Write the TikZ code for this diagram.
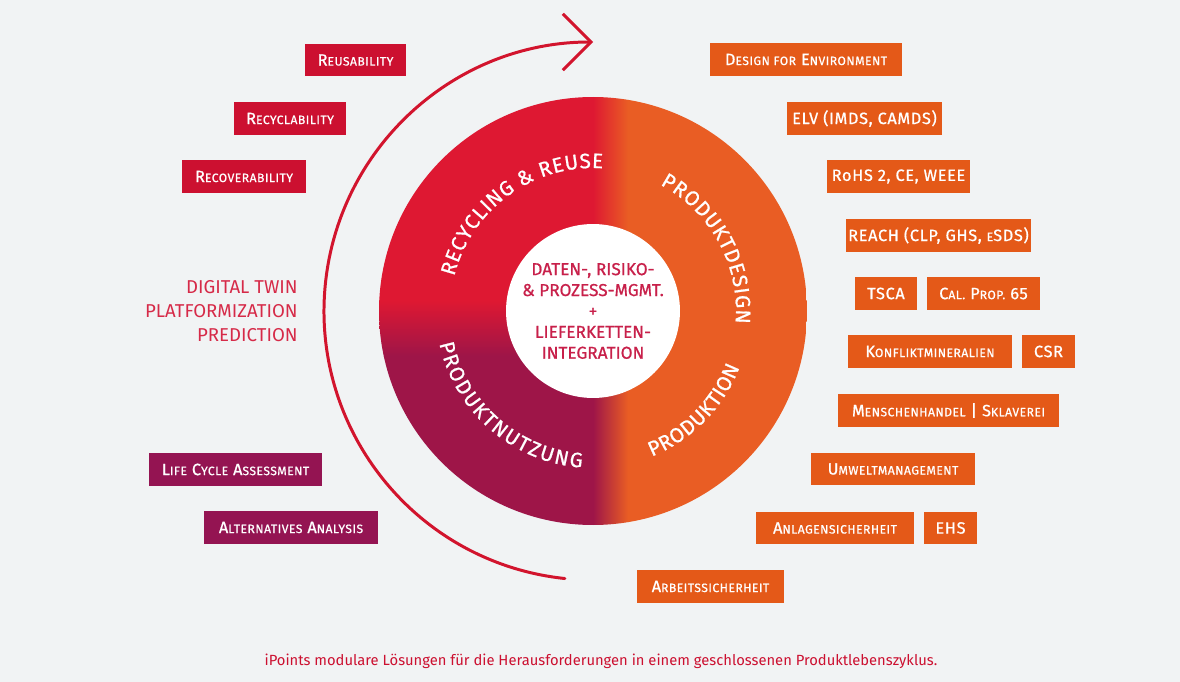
\documentclass[tikz,border=0pt]{standalone}
\usepackage{fontspec}
\setmainfont{Fira Sans}
\newfontfamily\tagfont[LetterSpace=4,FakeBold=0.8]{Fira Sans}
\newfontfamily\ringface[FakeBold=0.8]{Fira Sans}
\usetikzlibrary{arrows.meta,decorations.text}

\definecolor{bggray}{RGB}{241,243,244}
\definecolor{ringred}{RGB}{222,24,50}
\definecolor{ringorange}{RGB}{233,93,36}
\definecolor{ringpurple}{RGB}{158,21,72}
\definecolor{boxred}{RGB}{204,16,48}
\definecolor{boxpurple}{RGB}{148,20,82}
\definecolor{boxorange}{RGB}{228,89,24}
\definecolor{twinred}{RGB}{214,42,72}
\definecolor{hubred}{RGB}{200,32,74}
\definecolor{arrowred}{RGB}{210,20,45}

% small caps by hand
\newcommand\sml[1]{{\fontsize{6.9}{8}\selectfont\MakeUppercase{#1}}}
\newcommand\ringfont{\ringface\fontsize{11.8}{13}\selectfont}

\begin{document}
\begin{tikzpicture}[x=0.02cm,y=0.02cm,
    tag/.style={text=white, minimum height=0.66cm, inner xsep=1pt, inner ysep=0pt,
                font=\tagfont\fontsize{9.3}{11}\selectfont},
    redtag/.style={tag, fill=boxred},
    purpletag/.style={tag, fill=boxpurple},
    orangetag/.style={tag, fill=boxorange},
    boxw/.style={minimum width=#1*0.02cm},
    ringlabel/.style={decorate, decoration={text along path, text align={fit to path},
                text color=white, text={|\ringfont|#1}}},
    cyclearrow/.style={draw=arrowred, line width=1.7pt, line cap=round,
                -{Straight Barb[length=16pt,width=32pt,line width=1.7pt]}}]

    \fill[bggray] (0,0) rectangle (1180,-682);
    \coordinate (ringc) at (593,-311);

    % ring
    \begin{scope}[shift={(ringc)}]
        \clip (0,0) circle (214);
        \fill[ringred] (-214,10) rectangle (0,214);
        \fill[ringpurple] (-214,-214) rectangle (0,-45);
        \shade[top color=ringred, bottom color=ringpurple] (-214,-45) rectangle (0,10);
        \fill[ringorange] (35,-214) rectangle (214,214);
        \shade[left color=ringred, right color=ringorange] (0,10) rectangle (35,214);
        \shade[left color=ringred!50!ringpurple, right color=ringorange] (0,-45) rectangle (35,10);
        \shade[left color=ringpurple, right color=ringorange] (0,-214) rectangle (35,-45);
    \end{scope}
    \begin{scope}[shift={(ringc)}]
        \path[ringlabel={RECYCLING {\&} REUSE}] (166:143) arc (166:86:143);
        \path[ringlabel={PRODUKTDESIGN}] (62:143) arc (62:-5:143);
        \path[ringlabel={PRODUKTION}] (-68:157) arc (-68:-21:157);
        \path[ringlabel={PRODUKTNUTZUNG}] (192:157) arc (192:266:157);
    \end{scope}

    \node[circle, fill=white, minimum size=3.48cm, inner sep=0pt, align=center, text=hubred,
          font=\ringface\fontsize{9.8}{11.9}\selectfont] at (ringc) (hub)
          {DATEN-, RISIKO-\\\& PROZESS-MGMT.\\+\\LIEFERKETTEN-\\INTEGRATION};

    % cycle arrow
    \draw[cyclearrow] ([shift={(264:269)}]ringc) arc (264:90:269);

    % left side
    \node[redtag, boxw=101] at (355.5,-60) (reuse) {R\sml{eusability}};
    \node[redtag, boxw=112] at (290,-118.5) (recycle) {R\sml{ecyclability}};
    \node[redtag, boxw=124] at (244,-176.5) (recover) {R\sml{ecoverability}};
    \node[align=right, anchor=east, inner sep=0pt, text=twinred, font=\fontsize{10.6}{13.6}\selectfont]
          at (298,-311) (twin) {DIGITAL TWIN\\PLATFORMIZATION\\PREDICTION};
    \node[purpletag, boxw=173] at (235.5,-469.5) (lca) {L\sml{ife} C\sml{ycle} A\sml{ssessment}};
    \node[purpletag, boxw=174] at (291,-527.5) (alt) {A\sml{lternatives} A\sml{nalysis}};

    % right side
    \node[orangetag, boxw=192] at (806,-59.5) (dfe) {D\sml{esign for} E\sml{nvironment}};
    \node[orangetag, boxw=155] at (864.5,-118.5) (elv) {ELV (IMDS, CAMDS)};
    \node[orangetag, boxw=143] at (898.5,-176.5) (rohs) {RoHS 2, CE, WEEE};
    \node[orangetag, boxw=181] at (938.5,-235.5) (reach) {REACH (CLP, GHS, \sml{e}SDS)};
    \node[orangetag, boxw=62] at (886,-293.5) (tsca) {TSCA};
    \node[orangetag, boxw=113] at (983.5,-293.5) (prop) {C\sml{al.} P\sml{rop.} 65};
    \node[orangetag, boxw=164] at (930,-351.5) (konflikt) {K\sml{onfliktmineralien}};
    \node[orangetag, boxw=53] at (1048.5,-351.5) (csr) {CSR};
    \node[orangetag, boxw=221] at (948.5,-410.5) (menschen) {M\sml{enschenhandel} | S\sml{klaverei}};
    \node[orangetag, boxw=164] at (893,-469) (umwelt) {U\sml{mweltmanagement}};
    \node[orangetag, boxw=158] at (835,-528) (anlagen) {A\sml{nlagensicherheit}};
    \node[orangetag, boxw=53] at (950.5,-528) (ehs) {EHS};
    \node[orangetag, boxw=147] at (710.5,-586.5) (arbeit) {A\sml{rbeitssicherheit}};

    \node[text=boxred, font=\fontsize{8.4}{10}\selectfont] at (601,-661) (caption)
          {iPoints modulare Lösungen für die Herausforderungen in einem geschlossenen Produktlebenszyklus.};
\end{tikzpicture}
\end{document}
